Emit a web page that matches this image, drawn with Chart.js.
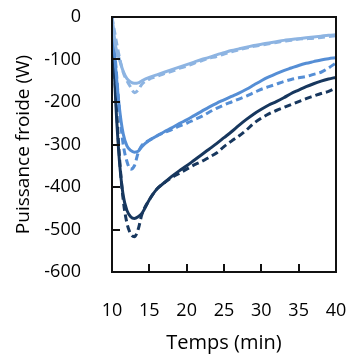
<!DOCTYPE html>
<html>
<head>
<meta charset="utf-8">
<script src="https://cdn.jsdelivr.net/npm/chart.js@4/dist/chart.umd.min.js"></script>
<style>
  html, body { margin: 0; padding: 0; background: #fff; }
  #wrap { position: relative; width: 347px; height: 356px; }
  .cadre { position: absolute; box-sizing: border-box; border: 2px solid #111; pointer-events: none; }
  .grad { position: absolute; background: #111; pointer-events: none; }
</style>
</head>
<body>
<div id="wrap"><canvas id="graphe"></canvas></div>
<script>
// Données (temps en min, puissance en W)
const temps = [10, 10.5, 11, 11.5, 12, 12.5, 13, 13.5, 14, 15, 16, 17, 18, 19, 20, 21, 22, 23, 24, 25, 26, 27, 28, 29, 30, 31, 32, 33, 34, 35, 36, 37, 38, 39, 40];

const clairMesure = [0, -70, -100, -128, -145, -153, -156, -155, -150, -142, -136, -130, -124, -118, -112, -106, -100, -95, -89, -84, -79, -75, -71, -67, -64, -61, -58, -55, -53, -51, -49, -47, -45, -43, -42];
const clairModele = [0, -50, -95, -130, -150, -165, -178, -172, -158, -146, -140, -133, -128, -121, -116, -109, -103, -97, -93, -87, -82, -77, -73, -69, -66, -63, -60, -57, -55, -52, -51, -50, -48, -46, -44];

const moyenMesure = [0, -120, -215, -275, -303, -314, -318, -316, -305, -290, -280, -270, -261, -251, -242, -232, -222, -212, -203, -195, -187, -179, -170, -160, -150, -141, -133, -126, -120, -114, -109, -105, -101, -98, -96];
const moyenModele = [0, -110, -220, -300, -340, -358, -350, -320, -302, -290, -280, -272, -265, -257, -250, -242, -234, -224, -215, -207, -200, -193, -186, -178, -170, -164, -158, -152, -147, -143, -140, -135, -130, -120, -108];

const fonceMesure = [0, -200, -340, -420, -455, -470, -474, -470, -462, -430, -405, -390, -375, -362, -350, -337, -324, -311, -298, -284, -270, -255, -241, -228, -217, -207, -199, -190, -180, -172, -164, -157, -151, -146, -142];
const fonceModele = [0, -180, -330, -430, -485, -510, -517, -500, -465, -430, -405, -390, -378, -368, -358, -348, -340, -330, -320, -305, -292, -280, -266, -250, -238, -228, -220, -213, -206, -199, -192, -186, -180, -175, -167];

const ticksX = [10, 15, 20, 25, 30, 35, 40];
const ticksY = [0, -100, -200, -300, -400, -500, -600];

const CLAIR = "#8db4e2";
const MOYEN = "#558ed5";
const FONCE = "#17375e";
const POLICE = "'Open Sans', sans-serif";

function points(valeurs) {
    return temps.map((t, i) => ({ x: t, y: valeurs[i] }));
}

function serie(nom, valeurs, couleur, pointille) {
    return {
        label: nom,
        data: points(valeurs),
        borderColor: couleur,
        backgroundColor: couleur,
        borderWidth: 3,
        borderDash: pointille ? [7, 4] : [],
        pointRadius: 0,
        cubicInterpolationMode: "monotone"
    };
}

// on enlève les marges automatiques pour placer la zone de tracé au pixel près
function sansMarge(s) {
    s.paddingTop = 0;
    s.paddingBottom = 0;
    s.paddingLeft = 0;
    s.paddingRight = 0;
}

// Cadre (haut, droite) et graduations intérieures, recalculés à chaque dessin
const wrap = document.getElementById("wrap");
const cadreDiv = document.createElement("div");
cadreDiv.className = "cadre";
wrap.appendChild(cadreDiv);
const gradDivs = [];

const cadre = {
    id: "cadre",
    afterDraw(chart) {
        const a = chart.chartArea;
        if (!a || a.right <= a.left) return;
        const ctx = chart.ctx;
        const xs = ticksX.map(v => Math.round(chart.scales.x.getPixelForValue(v)));
        const ys = ticksY.map(v => Math.round(chart.scales.y.getPixelForValue(v)));

        ctx.save();
        ctx.setLineDash([]);
        ctx.strokeStyle = "#111";
        ctx.lineWidth = 2;
        ctx.strokeRect(a.left, a.top, a.right - a.left, a.bottom - a.top);
        ctx.beginPath();
        xs.forEach(px => { ctx.moveTo(px, a.bottom); ctx.lineTo(px, a.bottom - 8); });
        ys.forEach(py => { ctx.moveTo(a.left, py); ctx.lineTo(a.left + 8, py); });
        ctx.stroke();
        ctx.restore();

        cadreDiv.style.left = (a.left - 1) + "px";
        cadreDiv.style.top = (a.top - 1) + "px";
        cadreDiv.style.width = (a.right - a.left + 2) + "px";
        cadreDiv.style.height = (a.bottom - a.top + 2) + "px";

        gradDivs.forEach(g => g.remove());
        gradDivs.length = 0;
        xs.forEach(px => {
            const g = document.createElement("div");
            g.className = "grad";
            g.style.left = (px - 1) + "px";
            g.style.top = (a.bottom - 8) + "px";
            g.style.width = "2px";
            g.style.height = "8px";
            wrap.appendChild(g);
            gradDivs.push(g);
        });
        ys.forEach(py => {
            const g = document.createElement("div");
            g.className = "grad";
            g.style.left = a.left + "px";
            g.style.top = (py - 1) + "px";
            g.style.width = "8px";
            g.style.height = "2px";
            wrap.appendChild(g);
            gradDivs.push(g);
        });
    }
};

new Chart(document.getElementById("graphe"), {
    type: "line",
    data: {
        datasets: [
            serie("Clair modèle", clairModele, CLAIR, true),
            serie("Clair mesure", clairMesure, CLAIR, false),
            serie("Moyen modèle", moyenModele, MOYEN, true),
            serie("Moyen mesure", moyenMesure, MOYEN, false),
            serie("Foncé modèle", fonceModele, FONCE, true),
            serie("Foncé mesure", fonceMesure, FONCE, false)
        ]
    },
    options: {
        responsive: true,
        maintainAspectRatio: false,
        animation: false,
        layout: { padding: { top: 17, right: 11, bottom: 0, left: 0 } },
        plugins: { legend: { display: false }, tooltip: { enabled: false } },
        scales: {
            x: {
                type: "linear",
                min: 10,
                max: 40,
                afterBuildTicks: s => { s.ticks = ticksX.map(v => ({ value: v })); },
                afterFit: s => { s.height = 84; sansMarge(s); },
                grid: { display: false },
                border: { display: true, color: "black", width: 2 },
                ticks: { padding: 20, maxRotation: 0, color: "#000", font: { family: POLICE, size: 18 } },
                title: { display: true, text: "Temps (min)", color: "#000", font: { family: POLICE, size: 20 }, padding: { top: 0, bottom: 1 } }
            },
            y: {
                min: -600,
                max: 0,
                afterBuildTicks: s => { s.ticks = ticksY.map(v => ({ value: v })); },
                afterFit: s => { s.width = 112; sansMarge(s); },
                grid: { display: false },
                border: { display: true, color: "black", width: 2 },
                ticks: { padding: 23, color: "#000", font: { family: POLICE, size: 18 } },
                title: { display: true, text: "Puissance froide (W)", color: "#000", font: { family: POLICE, size: 19 }, padding: { top: 12, bottom: 0 } }
            }
        }
    },
    plugins: [cadre]
});
</script>
</body>
</html>
